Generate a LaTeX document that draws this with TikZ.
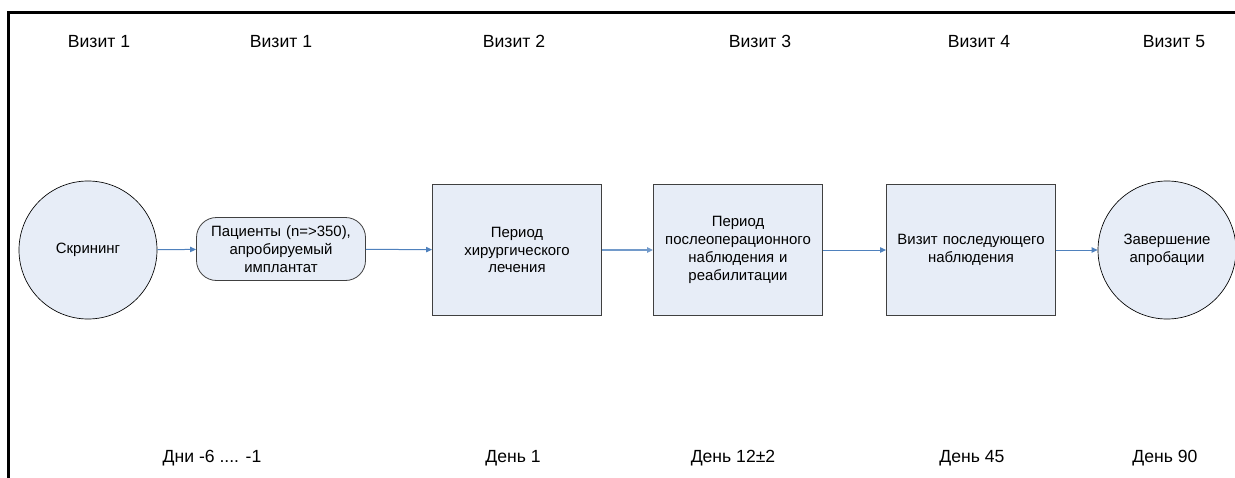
\documentclass[tikz,border=0pt]{standalone}
\usepackage{fontspec}
\setmainfont{Liberation Sans}
\usetikzlibrary{arrows.meta}
\definecolor{stagefill}{RGB}{231,237,247}
\definecolor{flowblue}{RGB}{79,129,189}
\tikzset{
  stage/.style={draw=black!75, fill=stagefill, line width=0.6pt,
    minimum width=126.75pt, minimum height=98.25pt, inner xsep=2pt,
    text width=120pt, align=center, font=\fontsize{11.2}{13.3}\selectfont},
  endpoint/.style={circle, draw=black, fill=stagefill, line width=0.5pt,
    minimum size=103.5pt, inner sep=0pt, text width=90pt, align=center,
    font=\fontsize{11.2}{13.3}\selectfont},
  flow/.style={draw=flowblue, line width=0.75pt,
    -{Triangle[length=4.5pt,width=4pt]}},
  tag/.style={anchor=base, font=\fontsize{13.2}{15}\selectfont}
}
\begin{document}
\begin{tikzpicture}[x=0.75pt,y=-0.75pt]
    \useasboundingbox (0,0) rectangle (1235,478);
    \draw[line width=2.25pt] (8,478) -- (8,13) -- (1235,13);
    % visits along the top
    \foreach \x/\lbl [count=\i] in {99/1,281/1,514/2,760/3,979/4,1174/5}
        \node[tag] (visit\i) at (\x,48) {Визит \lbl};
    % days along the bottom
    \foreach \x/\lbl [count=\i] in {212/{Дни -6 .... -1},513/{День 1},733/{День 12±2},972/{День 45},1165/{День 90}}
        \node[tag] (day\i) at (\x,462) {\lbl};
    % stages
    \node[endpoint] (screen) at (88,250) {Скрининг};
    \node[stage, rounded corners=15pt, minimum height=47.25pt] (cohort) at (281,249)
        {Пациенты (n=>350),\\апробируемый\\имплантат};
    \node[stage] (surgery) at (517,250) {Период\\хирургического\\лечения};
    \node[stage] (rehab) at (738,250)
        {Период\\послеоперационного\\наблюдения и\\реабилитации};
    \node[stage] (followup) at (971,250) {Визит последующего\\наблюдения};
    \node[endpoint] (finish) at (1167,250) {Завершение\\апробации};
    % arrows
    \draw[flow] (screen) -- (cohort);
    \draw[flow] (cohort) -- (surgery);
    \draw[flow, line width=2.2pt, draw=flowblue!80] (surgery) -- (rehab);
    \draw[flow] (rehab) -- (followup);
    \draw[flow] (followup) -- (finish);
\end{tikzpicture}
\end{document}
